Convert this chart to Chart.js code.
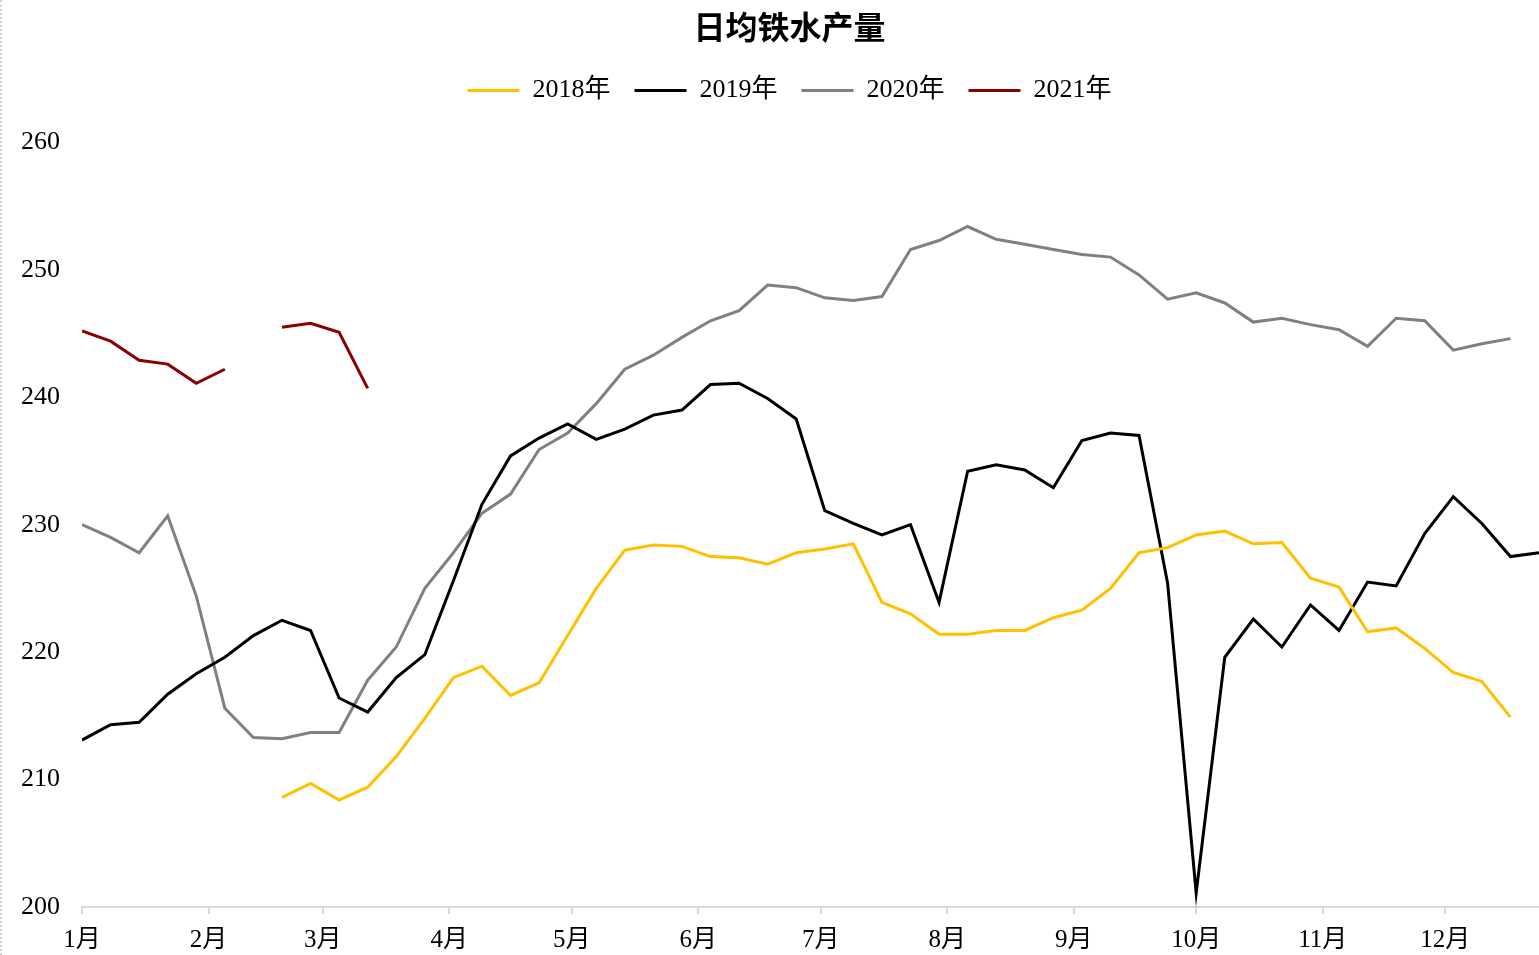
<!DOCTYPE html>
<html>
<head>
<meta charset="utf-8">
<script src="https://cdn.jsdelivr.net/npm/chart.js@4/dist/chart.umd.min.js"></script>
<style>
  html, body { margin: 0; padding: 0; background: #ffffff; overflow: hidden; }
  #wrap { position: relative; width: 1539px; height: 955px; overflow: hidden; border-left: 2px dotted #d0d0d0; box-sizing: border-box; }
</style>
</head>
<body>
<div id="wrap"><canvas id="myChart" width="1575" height="955"></canvas></div>
<script>
//! Les données.

const titre = '日均铁水产量';
const moisLabels = ['1月', '2月', '3月', '4月', '5月', '6月', '7月', '8月', '9月', '10月', '11月', '12月'];
const moisDebut = [0, 31, 59, 90, 120, 151, 181, 212, 243, 273, 304, 334];

// une valeur par semaine (semaine 0 = 1er janvier)
const valeurs2018 = [null, null, null, null, null, null, null,
  208.6, 209.7, 208.4, 209.4, 211.8, 214.8, 218.0, 218.9, 216.6, 217.6, 221.3, 225.0, 228.0,
  228.4, 228.3, 227.5, 227.4, 226.9, 227.8, 228.1, 228.5, 223.9, 223.0, 221.4, 221.4, 221.7,
  221.7, 222.7, 223.3, 225.0, 227.8, 228.2, 229.2, 229.5, 228.5, 228.6, 225.8, 225.1, 221.6,
  221.9, 220.3, 218.4, 217.7, 214.9];

const valeurs2019 = [213.1, 214.3, 214.5, 216.7, 218.3, 219.6, 221.3, 222.5, 221.7, 216.4,
  215.3, 218.0, 219.8, 225.6, 231.6, 235.4, 236.8, 237.9, 236.7, 237.5, 238.6, 239.0, 241.0,
  241.1, 239.9, 238.3, 231.1, 230.1, 229.2, 230.0, 223.9, 234.2, 234.7, 234.3, 232.9, 236.6,
  237.2, 237.0, 225.4, 201.1, 219.6, 222.6, 220.4, 223.7, 221.7, 225.5, 225.2, 229.3, 232.2,
  230.1, 227.5, 227.8];

const valeurs2020 = [230.0, 229.0, 227.8, 230.7, 224.4, 215.6, 213.3, 213.2, 213.7, 213.7,
  217.8, 220.4, 225.0, 227.8, 230.9, 232.4, 235.9, 237.2, 239.5, 242.2, 243.3, 244.7, 246.0,
  246.8, 248.8, 248.6, 247.8, 247.6, 247.9, 251.6, 252.3, 253.4, 252.4, 252.0, 251.6, 251.2,
  251.0, 249.6, 247.7, 248.2, 247.4, 245.9, 246.2, 245.7, 245.3, 244.0, 246.2, 246.0, 243.7,
  244.2, 244.6];

const valeurs2021 = [245.2, 244.4, 242.9, 242.6, 241.1, 242.2, null, 245.5, 245.8, 245.1, 240.7];

const series = [
  { label: '2018年', valeurs: valeurs2018, couleur: '#FFC000' },
  { label: '2019年', valeurs: valeurs2019, couleur: '#000000' },
  { label: '2020年', valeurs: valeurs2020, couleur: '#808080' },
  { label: '2021年', valeurs: valeurs2021, couleur: '#8B0000' },
];

//! --------------------------------------------------

const police = "'Liberation Serif', 'Noto Sans CJK SC', serif";

const versPoints = (valeurs) => valeurs.map((v, i) => ({ x: i * 7, y: v }));

const datasets = series.map((s) => ({
  label: s.label,
  data: versPoints(s.valeurs),
  xAxisID: 'x',
  yAxisID: 'y',
  borderColor: s.couleur,
  backgroundColor: s.couleur,
  borderWidth: 3,
  pointRadius: 0,
  tension: 0,
  spanGaps: false,
}));

const ctx = document.getElementById('myChart').getContext('2d');

// le canvas dépasse de 38px à droite (masqué) pour centrer titre et légende comme l'original
new Chart(ctx, {
  type: 'line',
  data: { datasets },
  options: {
    responsive: false,
    animation: false,
    layout: { padding: 0 },
    plugins: {
      tooltip: { enabled: false },
      title: {
        display: true,
        text: titre,
        color: '#000',
        font: { family: "'Noto Sans CJK SC', sans-serif", size: 32, weight: 'bold' },
        padding: { top: 8, bottom: 7 },
      },
      legend: {
        display: true,
        position: 'top',
        labels: {
          color: '#000',
          font: { family: police, size: 26 },
          usePointStyle: true,
          pointStyle: 'line',
          pointStyleWidth: 52,
          padding: 24,
        },
      },
    },
    scales: {
      x: {
        type: 'linear',
        min: 0,
        max: 357,
        afterBuildTicks: (scale) => {
          scale.ticks = moisDebut.map((d) => ({ value: d }));
        },
        afterFit: (scale) => { scale.height = 48; },
        ticks: {
          color: '#000',
          font: { family: police, size: 25 },
          padding: 11,
          autoSkip: false,
          maxRotation: 0,
          callback: (value) => moisLabels[moisDebut.indexOf(value)],
        },
        grid: { display: true, drawOnChartArea: false, tickLength: 7, color: '#d9d9d9', lineWidth: 2 },
        border: { display: true, color: '#d9d9d9', width: 2 },
      },
      y: {
        min: 200,
        max: 260,
        afterFit: (scale) => { scale.width = 80; },
        ticks: {
          stepSize: 10,
          color: '#000',
          font: { family: police, size: 26 },
          padding: 22,
        },
        grid: { display: false, drawTicks: false },
        border: { display: false },
      },
      // espace vide entre la légende et le graphique
      espace: {
        type: 'linear',
        position: 'top',
        display: true,
        ticks: { display: false },
        grid: { display: false, drawTicks: false },
        border: { display: false },
        afterFit: (scale) => { scale.height = 29; },
      },
      // espace vide à droite (hors de la fenêtre)
      espaceDroite: {
        type: 'linear',
        position: 'right',
        display: true,
        ticks: { display: false },
        grid: { display: false, drawTicks: false },
        border: { display: false },
        afterFit: (scale) => { scale.width = 38; },
      },
    },
  },
});
</script>
</body>
</html>
